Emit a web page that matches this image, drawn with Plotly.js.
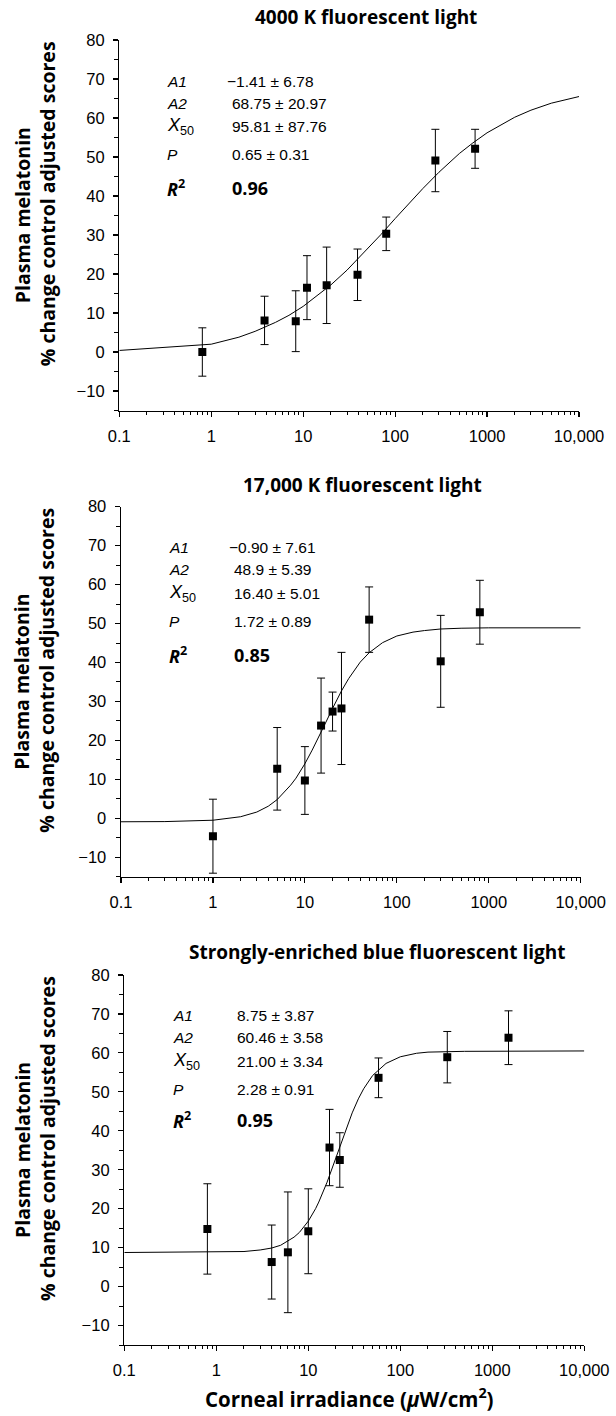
<!DOCTYPE html>
<html>
<head>
<meta charset="utf-8">
<script src="https://cdn.plot.ly/plotly-3.0.1.min.js"></script>
<style>
html,body{margin:0;padding:0;background:#fff;}
#chart{width:616px;height:1416px;}
</style>
</head>
<body>
<div id="chart"></div>
<script>
// ---------- Data ----------
const panelTitles = ["4000 K fluorescent light", "17,000 K fluorescent light", "Strongly-enriched blue fluorescent light"];

// Panel 1: 4000 K
const x1 = [0.8, 3.8, 8.3, 11, 18, 39, 80, 274, 741];
const y1 = [0.0, 8.1, 7.9, 16.5, 17.1, 19.8, 30.3, 49.1, 52.1];
const e1 = [6.2, 6.2, 7.8, 8.2, 9.8, 6.6, 4.3, 8.0, 5.0];
const cx1 = [0.1, 1, 2, 3, 5, 7, 10, 15, 20, 30, 50, 70, 100, 150, 200, 300, 500, 700, 1000, 2000, 3000, 5000, 10000];
const cy1 = [0.4, 2.0, 3.8, 5.3, 7.6, 9.4, 11.7, 14.8, 17.2, 21.0, 26.4, 30.1, 34.2, 38.7, 41.9, 46.1, 50.9, 53.6, 56.2, 60.2, 62.0, 63.8, 65.5];

// Panel 2: 17,000 K
const x2 = [1, 5, 10, 15, 20, 25, 50, 300, 800];
const y2 = [-4.6, 12.7, 9.7, 23.8, 27.4, 28.2, 51.0, 40.3, 52.9];
const e2 = [9.5, 10.6, 8.7, 12.2, 5.0, 14.4, 8.4, 11.8, 8.2];
const cx2 = [0.1, 0.3, 1, 2, 3, 4, 5, 7, 8, 10, 12, 13, 16.4, 20, 25, 30, 35, 40, 50, 70, 100, 150, 200, 300, 500, 1000, 10000];
const cy2 = [-0.9, -0.85, -0.5, 0.4, 1.6, 3.1, 4.8, 8.5, 10.3, 14.0, 17.5, 19.1, 24.0, 28.2, 32.7, 35.9, 38.3, 40.1, 42.5, 45.1, 46.8, 47.8, 48.2, 48.6, 48.8, 48.9, 48.9];

// Panel 3: strongly-enriched blue
const x3 = [0.8, 4, 6, 10, 17, 22, 58, 324, 1500];
const y3 = [14.8, 6.3, 8.8, 14.2, 35.7, 32.5, 53.6, 58.9, 63.9];
const e3 = [11.6, 9.5, 15.5, 10.9, 9.8, 7.0, 5.1, 6.6, 6.9];
const cx3 = [0.1, 1, 2, 3, 4, 5, 7, 8, 10, 12, 13, 16, 18, 21, 25, 30, 35, 40, 50, 70, 100, 150, 200, 300, 500, 10000];
const cy3 = [8.75, 8.8, 9.0, 9.4, 9.9, 10.6, 12.7, 13.9, 16.8, 20.0, 21.7, 26.8, 30.1, 34.6, 39.7, 44.6, 48.2, 50.8, 54.2, 57.3, 59.0, 59.9, 60.2, 60.3, 60.4, 60.5];

// Fit parameter labels
const paramNames = ["<i>A1</i>", "<i>A2</i>", "<i>X</i><sub>50</sub>", "<i>P</i>"];
const params1 = ["\u22121.41 ± 6.78", "68.75 ± 20.97", "95.81 ± 87.76", "0.65 ± 0.31"];
const params2 = ["\u22120.90 ± 7.61", "48.9 ± 5.39", "16.40 ± 5.01", "1.72 ± 0.89"];
const params3 = ["8.75 ± 3.87", "60.46 ± 3.58", "21.00 ± 3.34", "2.28 ± 0.91"];
const r2 = ["0.96", "0.85", "0.95"];

const xTickVals = [0.1, 1, 10, 100, 1000, 10000];
const xTickText = ["0.1", "1", "10", "100", "1000", "10,000"];
const yTickVals = [-10, 0, 10, 20, 30, 40, 50, 60, 70, 80];

// ---------- Build ----------
const W = 616, H = 1416;
const panels = [
  {x: x1, y: y1, e: e1, cx: cx1, cy: cy1, params: params1,
   px: [119.3, 579], py: [40, 410.5], title: [366, 17],
   rows: [69.3, 63.7, 57.9, 50.7, 42.0], lx: -0.50, vx: [0.149, 0.203, 0.203, 0.203, 0.203]},
  {x: x2, y: y2, e: e2, cx: cx2, cy: cy2, params: params2,
   px: [121, 580.7], py: [506.7, 876.7], title: [362, 485],
   rows: [69.5, 63.8, 57.8, 50.5, 42.0], lx: -0.50, vx: [0.149, 0.203, 0.203, 0.21, 0.203]},
  {x: x3, y: y3, e: e3, cx: cx3, cy: cy3, params: params3,
   px: [124.3, 584.3], py: [975, 1345], title: [377.5, 951.7],
   rows: [69.5, 63.9, 57.7, 50.6, 42.7], lx: -0.49, vx: [0.203, 0.203, 0.203, 0.203, 0.203]}
];

const minorX = [];
for (let d = -1; d < 4; d++) for (let k = 2; k <= 9; k++) minorX.push(k * Math.pow(10, d));

const traces = [];
const layout = {
  width: W, height: H,
  margin: {l: 0, r: 0, t: 0, b: 0},
  paper_bgcolor: "#fff", plot_bgcolor: "#fff",
  showlegend: false,
  font: {family: "Liberation Sans, Arial, sans-serif", color: "#000"},
  annotations: []
};

const boldFont = "'Open Sans', Lato, sans-serif";
const sansFont = "Liberation Sans, Arial, sans-serif";

panels.forEach((p, i) => {
  const n = i === 0 ? "" : String(i + 1);
  const xa = "x" + n, ya = "y" + n;
  traces.push({
    x: p.cx, y: p.cy, xaxis: xa, yaxis: ya, type: "scatter", mode: "lines",
    line: {color: "#000", width: 1}, hoverinfo: "skip"
  });
  traces.push({
    x: p.x, y: p.y, xaxis: xa, yaxis: ya, type: "scatter", mode: "markers",
    marker: {symbol: "square", size: 8, color: "#000"},
    error_y: {type: "data", array: p.e, visible: true, color: "#000", thickness: 1, width: 4}
  });
  layout["xaxis" + n] = {
    type: "log", range: [-1, 4], anchor: ya,
    domain: [p.px[0] / W, p.px[1] / W],
    showline: true, linecolor: "#000", linewidth: 1.4,
    ticks: "outside", ticklen: 5, tickwidth: 1.2, tickcolor: "#000",
    tickmode: "array", tickvals: xTickVals, ticktext: xTickText,
    tickfont: {size: 16.5, family: sansFont, color: "#000"},
    ticklabelstandoff: 5,
    minor: {tickmode: "array", tickvals: minorX, ticks: "outside", ticklen: 3, tickwidth: 1, tickcolor: "#000", showgrid: false},
    showgrid: false, zeroline: false, automargin: false, fixedrange: true
  };
  layout["yaxis" + n] = {
    range: [-15, 80], anchor: xa,
    domain: [1 - p.py[1] / H, 1 - p.py[0] / H],
    showline: true, linecolor: "#000", linewidth: 1.4,
    ticks: "outside", ticklen: 5, tickwidth: 1.2, tickcolor: "#000",
    tickmode: "array", tickvals: yTickVals,
    tickfont: {size: 16.5, family: sansFont, color: "#000"},
    ticklabelstandoff: 5,
    minor: {dtick: 5, tick0: 0, ticks: "outside", ticklen: 4, tickwidth: 1, tickcolor: "#000", showgrid: false},
    showgrid: false, zeroline: false, automargin: false, fixedrange: true
  };
  // panel title
  layout.annotations.push({
    xref: "paper", yref: "paper", x: p.title[0] / W, y: 1 - p.title[1] / H,
    xanchor: "center", yanchor: "middle", showarrow: false,
    text: "<b>" + panelTitles[i] + "</b>",
    font: {family: boldFont, size: 19, color: "#000"}
  });
  // y axis titles
  const cyp = (p.py[0] + p.py[1]) / 2;
  layout.annotations.push({
    xref: "paper", yref: "paper", x: 22 / W, y: 1 - (cyp - 10) / H,
    xanchor: "center", yanchor: "middle", showarrow: false, textangle: -90,
    text: "<b>Plasma melatonin</b>",
    font: {family: boldFont, size: 19.5, color: "#000"}
  });
  layout.annotations.push({
    xref: "paper", yref: "paper", x: 47 / W, y: 1 - (cyp - 21) / H,
    xanchor: "center", yanchor: "middle", showarrow: false, textangle: -90,
    text: "<b>% change control adjusted scores</b>",
    font: {family: boldFont, size: 19.5, color: "#000"}
  });
  // fit parameter table
  for (let r = 0; r < 4; r++) {
    layout.annotations.push({
      xref: xa, yref: ya, x: p.lx, y: p.rows[r], xanchor: "left", yanchor: "middle",
      showarrow: false, text: paramNames[r],
      font: {family: sansFont, size: r === 2 ? 18 : 15.5, color: "#000"}
    });
    layout.annotations.push({
      xref: xa, yref: ya, x: p.vx[r], y: p.rows[r], xanchor: "left", yanchor: "middle",
      showarrow: false, text: p.params[r],
      font: {family: sansFont, size: 15.5, color: "#000"}
    });
  }
  layout.annotations.push({
    xref: xa, yref: ya, x: p.lx, y: p.rows[4], xanchor: "left", yanchor: "middle",
    showarrow: false, text: "<b><i>R</i><sup>2</sup></b>",
    font: {family: boldFont, size: 18, color: "#000"}
  });
  layout.annotations.push({
    xref: xa, yref: ya, x: p.vx[4], y: p.rows[4], xanchor: "left", yanchor: "middle",
    showarrow: false, text: "<b>" + r2[i] + "</b>",
    font: {family: boldFont, size: 18, color: "#000"}
  });
});

// bottom x-axis title
layout.annotations.push({
  xref: "paper", yref: "paper", x: 349 / W, y: 1 - 1398 / H,
  xanchor: "center", yanchor: "middle", showarrow: false,
  text: "<b>Corneal irradiance (<i>\u03bc</i>W/cm<sup>2</sup>)</b>",
  font: {family: boldFont, size: 20.5, color: "#000"}
});

Plotly.newPlot("chart", traces, layout, {staticPlot: true, displayModeBar: false});
</script>
</body>
</html>
